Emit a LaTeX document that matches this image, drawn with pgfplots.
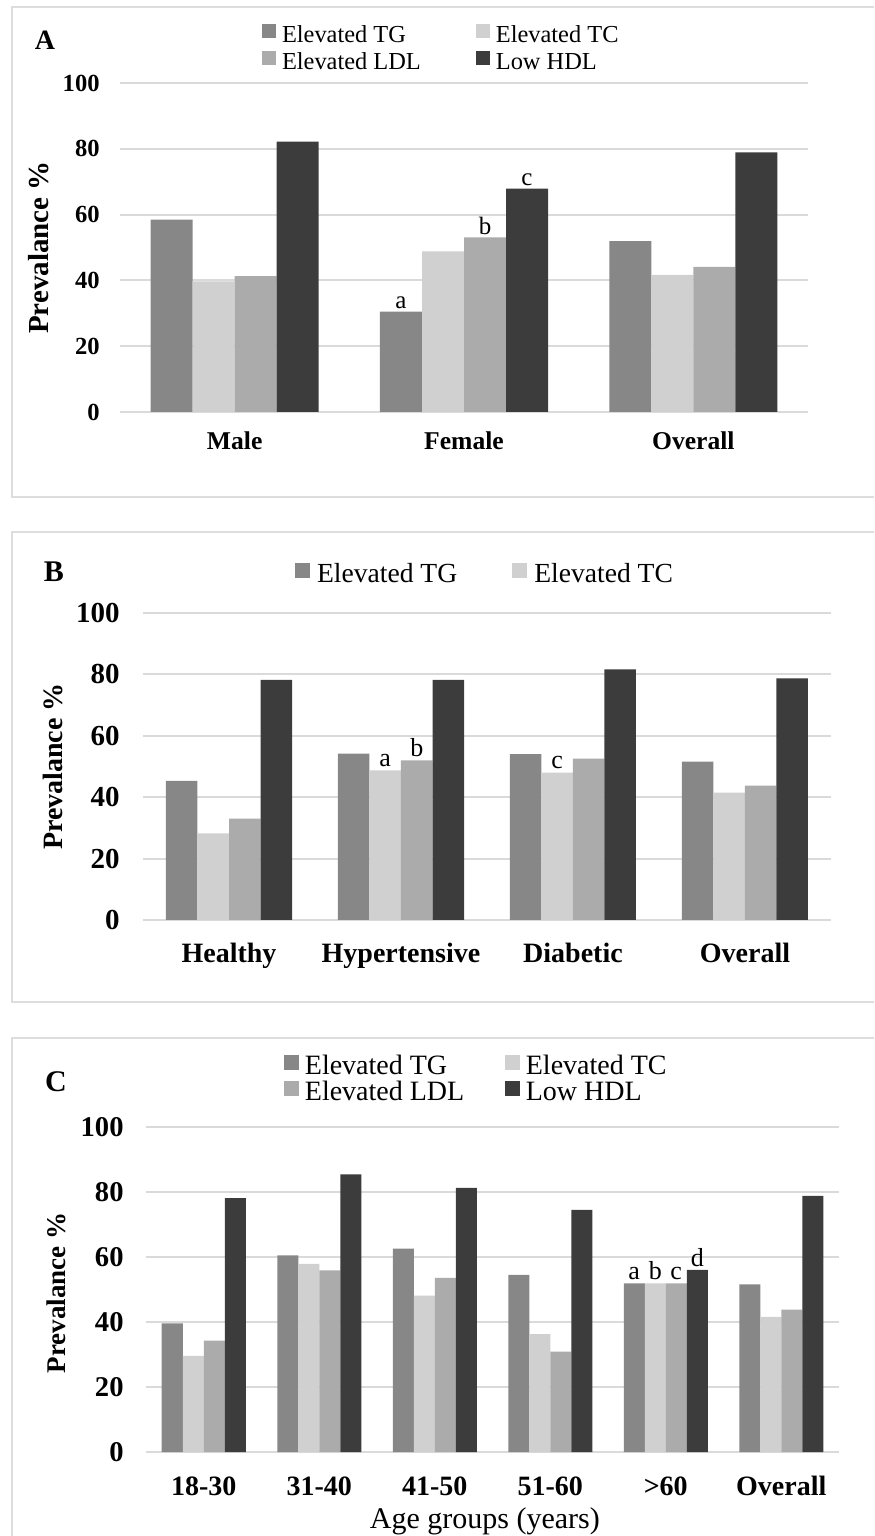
\documentclass[border=0pt]{standalone}
\usepackage{pgfplots}
\usepackage{pgfplotstable}
\pgfplotsset{compat=1.18}
\usepackage{fontspec}
\setmainfont{Liberation Serif}

\definecolor{cTG}{HTML}{878787}
\definecolor{cTC}{HTML}{D0D0D0}
\definecolor{cLDL}{HTML}{ABABAB}
\definecolor{cHDL}{HTML}{3C3C3C}
\definecolor{cgrid}{HTML}{DADADA}
\definecolor{cframe}{HTML}{DDDDDD}

\pgfplotstableread{
x TG TC LDL HDL
0 58.5 39.7 41.3 82.2
1 30.5 48.8 53.1 67.9
2 51.9 41.7 44.1 78.9
}\dataA

\pgfplotstableread{
x TG TC LDL HDL
0 45.3 28.2 33.0 78.2
1 54.2 48.7 52.0 78.2
2 54.0 48.0 52.6 81.6
3 51.6 41.5 43.8 78.7
}\dataB

\pgfplotstableread{
x TG TC LDL HDL
0 39.6 29.6 34.3 78.1
1 60.5 57.9 55.9 85.4
2 62.6 48.1 53.6 81.3
3 54.5 36.3 30.9 74.5
4 51.9 51.9 51.9 56.0
5 51.6 41.6 43.8 78.8
}\dataC

\pgfplotsset{
  panel/.style={
    scale only axis,
    ybar=0pt,
    ymin=0, ymax=100, ytick={0,20,40,60,80,100},
    ymajorgrids, grid style={color=cgrid, line width=1pt},
    axis line style={draw=none},
    major tick length=0pt,
    xtick=data,
    /pgf/number format/assume math mode=true,
    yticklabel style={anchor=east, inner sep=0pt},
    xticklabel style={anchor=base, inner sep=0pt},
    clip=false,
    legend cell align=left,
  },
  sqA/.style={legend image code/.code={\fill[##1] (0pt,0pt) rectangle (7pt,7pt);}},
  sqB/.style={legend image code/.code={\fill[##1] (0pt,0pt) rectangle (7.5pt,7.5pt);}},
}

\begin{document}
\begin{tikzpicture}
\useasboundingbox (0,0) rectangle (437pt,768pt);
\clip (0,0) rectangle (437pt,768pt);

% panel frames
\draw[cframe, line width=0.9pt] (6pt,764.5pt) rectangle (445pt,519.5pt);
\draw[cframe, line width=0.9pt] (6pt,502pt) rectangle (445pt,267pt);
\draw[cframe, line width=0.9pt] (6pt,249pt) rectangle (445pt,-10pt);

% ---------------- Panel A ----------------
\begin{axis}[panel, sqA,
  at={(60pt,562pt)}, anchor=south west,
  width=344pt, height=164.5pt,
  bar width=21pt,
  xmin=-0.5, xmax=2.5,
  xticklabels={Male, Female, Overall},
  yticklabel style={xshift=-10pt, font=\fontsize{12.3}{14}\selectfont\bfseries},
  xticklabel style={yshift=-19pt, font=\fontsize{12.8}{14}\selectfont\bfseries},
  ylabel={Prevalance \%},
  every axis y label/.style={at={(axis description cs:-0.118,0.5)}, rotate=90, anchor=center, font=\fontsize{14.5}{16}\selectfont\bfseries},
  legend columns=2,
  legend style={at={(axis description cs:0.2064,1.179)}, anchor=north west, draw=none, fill=none,
    inner sep=0pt, outer sep=0pt, row sep=1.75pt,
    font=\fontsize{12.2}{14}\selectfont,
    nodes={inner sep=0pt, text height=0.7em, text depth=0.25em},
    /tikz/every odd column/.style={column sep=3pt},
    /tikz/every even column/.style={column sep=27.5pt}},
]
\addplot[fill=cTG, draw=none] table[x=x,y=TG]{\dataA};
\addplot[fill=cTC, draw=none] table[x=x,y=TC]{\dataA};
\addplot[fill=cLDL, draw=none] table[x=x,y=LDL]{\dataA};
\addplot[fill=cHDL, draw=none] table[x=x,y=HDL]{\dataA};
\legend{Elevated TG, Elevated TC, Elevated LDL, Low HDL}
\node[anchor=south, inner sep=1pt, font=\fontsize{12.5}{14}\selectfont] at (axis cs:1,30.5) [xshift=-31.5pt] {a};
\node[anchor=south, inner sep=1pt, font=\fontsize{12.5}{14}\selectfont] at (axis cs:1,53.1) [xshift=10.5pt] {b};
\node[anchor=south, inner sep=1pt, font=\fontsize{12.5}{14}\selectfont] at (axis cs:1,67.9) [xshift=31.5pt] {c};
\end{axis}
\node[anchor=base, font=\fontsize{14}{16}\selectfont\bfseries] at (22.5pt,743.25pt) {A};

% ---------------- Panel B ----------------
\begin{axis}[panel, sqB,
  at={(71.5pt,308pt)}, anchor=south west,
  width=344pt, height=153.5pt,
  bar width=15.75pt,
  xmin=-0.5, xmax=3.5,
  xticklabels={Healthy, Hypertensive, Diabetic, Overall},
  yticklabel style={xshift=-11.5pt, font=\fontsize{14.5}{16}\selectfont\bfseries},
  xticklabel style={yshift=-21.5pt, font=\fontsize{14}{16}\selectfont\bfseries},
  ylabel={Prevalance \%},
  every axis y label/.style={at={(axis description cs:-0.131,0.5)}, rotate=90, anchor=center, font=\fontsize{14}{16}\selectfont\bfseries},
  legend columns=2,
  legend style={at={(axis description cs:0.221,1.164)}, anchor=north west, draw=none, fill=none,
    inner sep=0pt, outer sep=0pt,
    font=\fontsize{13.8}{16}\selectfont,
    nodes={inner sep=0pt, text height=0.7em, text depth=0.25em},
    /tikz/every odd column/.style={column sep=3.5pt},
    /tikz/every even column/.style={column sep=27.5pt}},
]
\addplot[fill=cTG, draw=none] table[x=x,y=TG]{\dataB};
\addplot[fill=cTC, draw=none] table[x=x,y=TC]{\dataB};
\addplot[fill=cLDL, draw=none] table[x=x,y=LDL]{\dataB};
\addplot[fill=cHDL, draw=none] table[x=x,y=HDL]{\dataB};
\legend{Elevated TG, Elevated TC}
\node[anchor=south, inner sep=1.5pt, font=\fontsize{13}{15}\selectfont] at (axis cs:1,48.7) [xshift=-7.9pt] {a};
\node[anchor=south, inner sep=1.5pt, font=\fontsize{13}{15}\selectfont] at (axis cs:1,52.0) [xshift=7.9pt] {b};
\node[anchor=south, inner sep=1.5pt, font=\fontsize{13}{15}\selectfont] at (axis cs:2,48.0) [xshift=-7.9pt] {c};
\end{axis}
\node[anchor=base, font=\fontsize{15}{17}\selectfont\bfseries] at (27pt,477pt) {B};

% ---------------- Panel C ----------------
\begin{axis}[panel, sqB,
  at={(73pt,42pt)}, anchor=south west,
  width=346.5pt, height=162.5pt,
  bar width=10.5pt,
  xmin=-0.5, xmax=5.5,
  xticklabels={18-30, 31-40, 41-50, 51-60, >60, Overall},
  yticklabel style={xshift=-11pt, font=\fontsize{14.3}{16}\selectfont\bfseries},
  xticklabel style={yshift=-21.5pt, font=\fontsize{14}{16}\selectfont\bfseries},
  ylabel={Prevalance \%},
  every axis y label/.style={at={(axis description cs:-0.130,0.49)}, rotate=90, anchor=center, font=\fontsize{13.5}{15}\selectfont\bfseries},
  xlabel={Age groups (years)},
  every axis x label/.style={at={(axis description cs:0.489,0)}, anchor=base, yshift=-38pt, inner sep=0pt, font=\fontsize{15}{17}\selectfont},
  legend columns=2,
  legend style={at={(axis description cs:0.199,1.220)}, anchor=north west, draw=none, fill=none,
    inner sep=0pt, outer sep=0pt, row sep=0.7pt,
    font=\fontsize{14}{16}\selectfont,
    nodes={inner sep=0pt, text height=0.7em, text depth=0.25em},
    /tikz/every odd column/.style={column sep=3pt},
    /tikz/every even column/.style={column sep=20.3pt}},
]
\addplot[fill=cTG, draw=none] table[x=x,y=TG]{\dataC};
\addplot[fill=cTC, draw=none] table[x=x,y=TC]{\dataC};
\addplot[fill=cLDL, draw=none] table[x=x,y=LDL]{\dataC};
\addplot[fill=cHDL, draw=none] table[x=x,y=HDL]{\dataC};
\legend{Elevated TG, Elevated TC, Elevated LDL, Low HDL}
\node[anchor=south, inner sep=1.5pt, font=\fontsize{13}{15}\selectfont] at (axis cs:4,51.9) [xshift=-15.75pt] {a};
\node[anchor=south, inner sep=1.5pt, font=\fontsize{13}{15}\selectfont] at (axis cs:4,51.9) [xshift=-5.25pt] {b};
\node[anchor=south, inner sep=1.5pt, font=\fontsize{13}{15}\selectfont] at (axis cs:4,51.9) [xshift=5.25pt] {c};
\node[anchor=south, inner sep=1.5pt, font=\fontsize{13}{15}\selectfont] at (axis cs:4,56.0) [xshift=15.75pt] {d};
\end{axis}
\node[anchor=base, font=\fontsize{15}{17}\selectfont\bfseries] at (28pt,222pt) {C};
\end{tikzpicture}
\end{document}
